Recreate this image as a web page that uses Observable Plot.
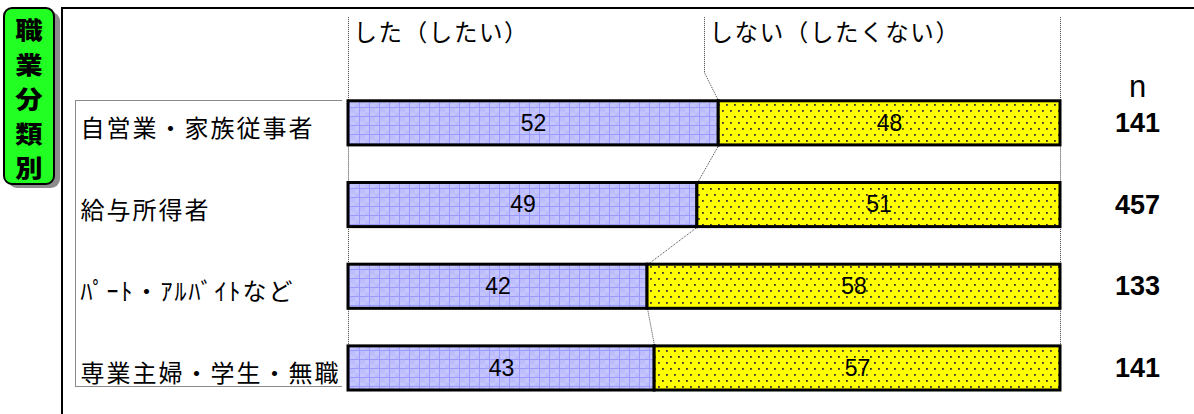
<!DOCTYPE html>
<html>
<head>
<meta charset="utf-8">
<script src="https://cdn.jsdelivr.net/npm/d3@7"></script>
<script src="https://cdn.jsdelivr.net/npm/@observablehq/plot@0.6"></script>
<style>
  html, body { margin: 0; padding: 0; background: #fff; }
  #wrap { position: relative; width: 1194px; height: 414px; overflow: hidden; background: #fff; }
  #wrap svg { position: absolute; left: 0; top: 0; }
  .frame { position: absolute; left: 61px; top: 7px; width: 1200px; height: 500px;
           border-top: 2px solid #000; border-left: 2px solid #000; }
  .catbox { position: absolute; left: 75px; top: 100px; width: 266px; height: 285px;
            border-left: 1.5px solid #8a8a8a; border-top: 1.5px solid #8a8a8a; border-bottom: 1.5px solid #8a8a8a; }
  .shadow { position: absolute; left: 8px; top: 12px; width: 52px; height: 176px; border-radius: 9px; background: #8c8c8c; }
  .tag { position: absolute; left: 3px; top: 7px; width: 48px; height: 174px; border-radius: 9px;
         background: #22ff22; border: 2px solid #000; }
  .tag span { position: absolute; left: 0; width: 48px; height: 34px; line-height: 34px; text-align: center;
              font-family: "Noto Sans CJK JP", sans-serif; font-weight: 900; font-size: 24px; color: #000;
              transform: scaleX(1.14); }
  .hdr text { letter-spacing: 1.6px; }
  .cat text { letter-spacing: 2px; }
</style>
</head>
<body>
<div id="wrap">
  <div class="frame"></div>
  <div class="catbox"></div>
  <div class="shadow"></div>
  <div class="tag" id="tag"></div>
</div>
<script>
// ---- data ----
const categories = ["自営業・家族従事者", "給与所得者", "ﾊﾟｰﾄ・ｱﾙﾊﾞｲﾄなど", "専業主婦・学生・無職"];
const didValues = [52, 49, 42, 43];
const didNotValues = [48, 51, 58, 57];
const nValues = [141, 457, 133, 141];
const seriesLabels = ["した（したい）", "しない（したくない）"];
const nLabel = "n";
const groupTitle = "職業分類別";

// group title tag (vertical)
const tag = document.getElementById("tag");
Array.from(groupTitle).forEach((ch, k) => {
  const s = document.createElement("span");
  s.textContent = ch;
  s.style.top = (3 + k * 34.5) + "px";
  tag.appendChild(s);
});

// ---- layout (not data) ----
const inset = 0.23;
const headerTop = -0.8;
const headerBreak = -0.12;
const headerY = -0.6;

const rows = categories.map((c, i) => ({
  cat: c, i,
  did: didValues[i], not: didNotValues[i], n: nValues[i],
  y1: i + inset, y2: i + 1 - inset, yc: i + 0.5
}));

const links = [];
links.push({x1: 0, y1: headerTop, x2: 0, y2: rows[0].y1});
links.push({x1: 100, y1: headerTop, x2: 100, y2: rows[0].y1});
links.push({x1: 50, y1: headerTop, x2: 50, y2: headerBreak});
links.push({x1: 50, y1: headerBreak, x2: rows[0].did, y2: rows[0].y1});
for (let k = 0; k < rows.length - 1; k++) {
  const a = rows[k], b = rows[k + 1];
  links.push({x1: 0, y1: a.y2, x2: 0, y2: b.y1});
  links.push({x1: 100, y1: a.y2, x2: 100, y2: b.y1});
  links.push({x1: a.did, y1: a.y2, x2: b.did, y2: b.y1});
}

const headers = [
  {x: 0, label: seriesLabels[0]},
  {x: 50, label: seriesLabels[1]}
];

const jp = "'Noto Sans CJK JP', sans-serif";
const num = "'Liberation Sans', Arial, sans-serif";

const chart = Plot.plot({
  width: 1194,
  height: 414,
  marginLeft: 80,
  marginRight: 57,
  marginTop: 0,
  marginBottom: 0,
  x: {type: "linear", domain: [0, 100], range: [348, 1060], axis: null},
  y: {type: "linear", domain: [-1, 4], range: [0.3, 408.8], axis: null},
  style: {background: "transparent", overflow: "visible"},
  marks: [
    Plot.link(links, {x1: "x1", y1: "y1", x2: "x2", y2: "y2",
      stroke: "#444", strokeWidth: 1, strokeDasharray: "1,1"}),
    Plot.rect(rows, {x1: 0, x2: "did", y1: "y1", y2: "y2",
      fill: "url(#pBlue)", stroke: "#000", strokeWidth: 3}),
    Plot.rect(rows, {x1: "did", x2: 100, y1: "y1", y2: "y2",
      fill: "url(#pYellow)", stroke: "#000", strokeWidth: 3}),
    Plot.text(rows, {x: d => d.did / 2, y: "yc", text: d => String(d.did),
      fontSize: 23, fontFamily: num, fill: "#000"}),
    Plot.text(rows, {x: d => d.did + d.not / 2, y: "yc", text: d => String(d.not),
      fontSize: 23, fontFamily: num, fill: "#000"}),
    Plot.text(headers, {x: "x", y: headerY, text: "label", dx: 5, textAnchor: "start",
      fontSize: 23.5, fontFamily: jp, fill: "#000", className: "hdr"}),
    Plot.text(rows, {frameAnchor: "left", y: "yc", dy: 6, text: "cat", textAnchor: "start",
      fontSize: 24, fontFamily: jp, fill: "#000", className: "cat"}),
    Plot.text(rows, {frameAnchor: "right", y: "yc", dy: 0, text: d => String(d.n), textAnchor: "middle",
      fontSize: 27, fontWeight: "bold", fontFamily: num, fill: "#000"}),
    Plot.text([nLabel], {frameAnchor: "right", y: 0, dy: 5, text: d => d, textAnchor: "middle",
      fontSize: 31, fontFamily: num, fill: "#000"})
  ]
});

// patterns
const svg = d3.select(chart);
const defs = svg.insert("defs", ":first-child");
const pb = defs.append("pattern").attr("id", "pBlue").attr("patternUnits", "userSpaceOnUse")
  .attr("width", 10).attr("height", 9);
pb.append("rect").attr("width", 10).attr("height", 9).attr("fill", "#c6c6ff");
pb.append("rect").attr("x", 0).attr("y", 0).attr("width", 5).attr("height", 4.5).attr("fill", "#b8b8fc").attr("opacity", 0.6);
pb.append("rect").attr("x", 5).attr("y", 4.5).attr("width", 5).attr("height", 4.5).attr("fill", "#b8b8fc").attr("opacity", 0.6);
pb.append("rect").attr("x", 9).attr("y", 0).attr("width", 1).attr("height", 9).attr("fill", "#9a9aff");
pb.append("rect").attr("x", 0).attr("y", 8).attr("width", 10).attr("height", 1).attr("fill", "#9a9aff");
const py = defs.append("pattern").attr("id", "pYellow").attr("patternUnits", "userSpaceOnUse")
  .attr("width", 8).attr("height", 12);
py.append("rect").attr("width", 8).attr("height", 12).attr("fill", "#ffff00");
py.append("rect").attr("x", 2).attr("y", 2).attr("width", 1.8).attr("height", 1.8).attr("fill", "#333");
py.append("rect").attr("x", 6).attr("y", 8).attr("width", 1.8).attr("height", 1.8).attr("fill", "#333");

document.getElementById("wrap").appendChild(chart);
</script>
</body>
</html>
